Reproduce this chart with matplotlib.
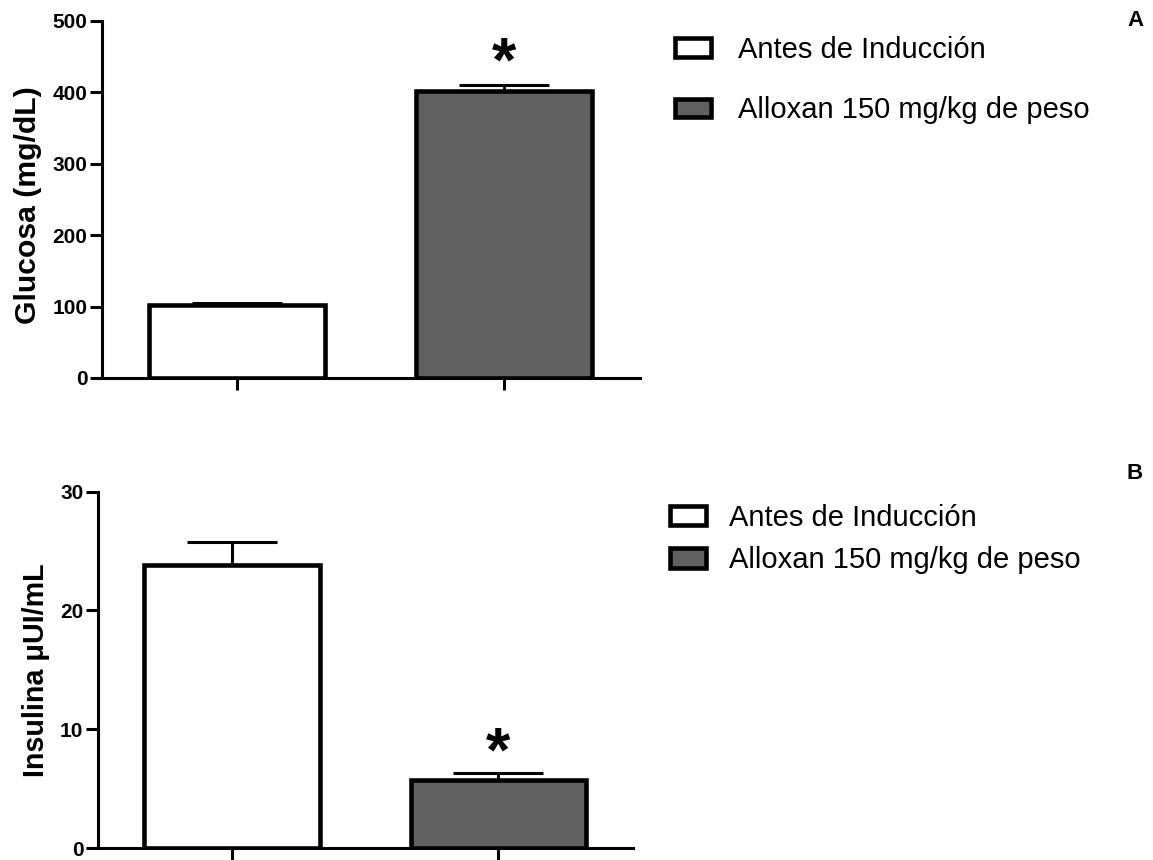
import matplotlib
matplotlib.use("Agg")
import matplotlib.pyplot as plt
from matplotlib.patches import Patch

plt.rcParams["font.family"] = ["Liberation Sans", "DejaVu Sans"]

# data
groups = ["Antes de Inducción", "Alloxan 150 mg/kg de peso"]
bar_colors = ["white", "#606060"]

glucosa_mean = [102, 402]
glucosa_err = [2.5, 8]

insulina_mean = [23.8, 5.7]
insulina_err = [2.0, 0.65]

glucosa_ticks = [0, 100, 200, 300, 400, 500]
insulina_ticks = [0, 10, 20, 30]

fig = plt.figure(figsize=(11.53, 8.6), dpi=100)
ax1 = fig.add_axes([0.0885, 0.5605, 0.4666, 0.4155])
ax2 = fig.add_axes([0.085, 0.01395, 0.464, 0.4143])


def panel(ax, means, errs, ticks, ylabel, xlim, label_xy, label_size, star_y):
    x = [0, 1]
    ax.errorbar(x, means, yerr=[[0, 0], errs], fmt="none", ecolor="black",
                elinewidth=2.2, capsize=32.5, capthick=2.2, zorder=2)
    ax.bar(x, means, width=0.66, color=bar_colors, edgecolor="black",
           linewidth=3.3, zorder=3)
    ax.set_xlim(*xlim)
    ax.set_ylim(ticks[0], ticks[-1])
    ax.set_yticks(ticks)
    ax.set_xticks(x)
    ax.set_xticklabels([])
    for s in ["top", "right"]:
        ax.spines[s].set_visible(False)
    for s in ["left", "bottom"]:
        ax.spines[s].set_linewidth(2.2)
    ax.tick_params(axis="y", length=9, width=2.2, pad=1.5, labelsize=15)
    ax.tick_params(axis="x", length=8.5, width=2.2)
    for lab in ax.get_yticklabels():
        lab.set_fontweight("bold")
    ax.set_ylabel(ylabel, fontsize=label_size, fontweight="bold")
    ax.yaxis.set_label_coords(*label_xy)
    # significance mark
    ax.text(1, star_y, "*", ha="center", va="center", fontsize=45,
            fontweight="bold", zorder=4)


panel(ax1, glucosa_mean, glucosa_err, glucosa_ticks, "Glucosa (mg/dL)",
      (-0.508, 1.51), (-0.111, 0.483), 21.7, 440)
panel(ax2, insulina_mean, insulina_err, insulina_ticks, "Insulina μUI/mL",
      (-0.503, 1.505), (-0.09, 0.5), 20.7, 7.9)

handles = [Patch(facecolor=c, edgecolor="black", linewidth=3.3)
           for c in bar_colors]

fig.legend(handles, groups, loc="center left", bbox_to_anchor=(0.5854, 0.907),
           frameon=False, fontsize=21, handlelength=1.25, handleheight=0.62,
           handletextpad=0.9, labelspacing=1.12, borderpad=0, borderaxespad=0)
fig.legend(handles, groups, loc="center left", bbox_to_anchor=(0.581, 0.3733),
           frameon=False, fontsize=21, handlelength=1.25, handleheight=0.66,
           handletextpad=0.76, labelspacing=0.5, borderpad=0, borderaxespad=0)

fig.text(0.9844, 0.976, "A", ha="center", va="center", fontsize=16,
         fontweight="bold")
fig.text(0.984, 0.4494, "B", ha="center", va="center", fontsize=16,
         fontweight="bold")

fig.savefig("out.png", dpi=100)
